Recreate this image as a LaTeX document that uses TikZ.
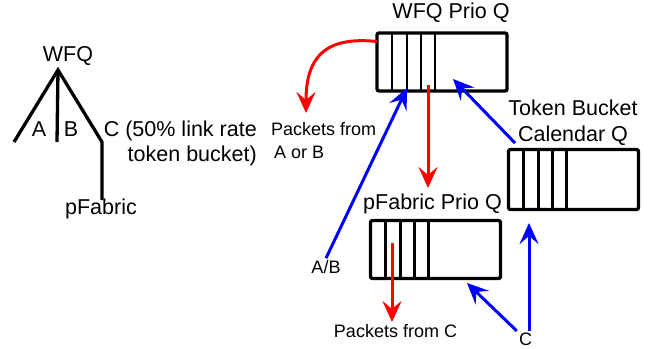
\documentclass[tikz,border=0pt]{standalone}
\usepackage{fontspec}
\setmainfont{Liberation Sans}
\usetikzlibrary{arrows.meta, positioning}
\tikzstyle{queue} = [rectangle, rounded corners=2pt, draw=black, line width=3.3pt, minimum width=130pt, minimum height=58pt, inner sep=0pt, outer sep=0pt]
\tikzstyle{slot} = [line width=2.2pt]
\tikzstyle{tree} = [line width=3.3pt]
\tikzstyle{big} = [font=\fontsize{21.5}{25}\selectfont, inner sep=0pt]
\tikzstyle{small} = [font=\fontsize{18}{23}\selectfont, inner sep=0pt]
\tikzstyle{enq} = [blue, line width=3pt, -{Stealth[length=21pt, width=19pt, inset=8pt]}]
\tikzstyle{deq} = [red, line width=3pt, -{Stealth[length=21pt, width=19pt, inset=8pt]}]

\begin{document}
\begin{tikzpicture}[x=1pt, y=-1pt]
\useasboundingbox (0,0) rectangle (650,348);

% Scheduling tree
\node (root-lbl) [big] at (68,56.5) {WFQ};
\coordinate (root) at (58,70);
\coordinate (leaf-a) at (14,142);
\coordinate (leaf-b) at (57,142);
\coordinate (leaf-c) at (102,142);
\coordinate (leaf-pf) at (102,200);
\draw [tree] (leaf-a) -- (root) -- (leaf-c) -- (leaf-pf);
\draw [tree] (root) -- (leaf-b);
\node (a-lbl) [big] at (39,129) {A};
\node (b-lbl) [big] at (71,129) {B};
\node (c-lbl) [big, align=right, anchor=east] at (257,143) {C (50\% link rate\\token bucket)};
\node (pf-lbl) [big] at (101,208.5) {pFabric};

% Queues
\node (wfq) [queue] at (442,62) {};
\node (tb) [queue, minimum height=60pt] at (573.5,179.5) {};
\node (pf) [queue] at (435.5,249.5) {};
\foreach \q in {wfq, tb, pf}
  \foreach \dx in {15,30,44,58}
    \draw [slot] ([xshift=\dx pt]\q.north west) -- ([xshift=\dx pt]\q.south west);

\node (wfq-lbl) [big] at (451,13) {WFQ Prio Q};
\node (tb-lbl) [big, align=center, font=\fontsize{21.5}{26.5}\selectfont] at (573,122.5) {Token Bucket\\Calendar Q};
\node (pf-lbl-q) [big] at (432.5,203.5) {pFabric Prio Q};

% Labels
\node (ab-out-lbl) [small, align=left, anchor=west] at (271,141) {Packets from\\\hspace{3pt}A or B};
\node (c-out-lbl) [small] at (395.5,331) {Packets from C};
\node (ab-lbl) [small, inner sep=2pt] at (326,267) {A/B};
\node (c-in-lbl) [small, inner sep=2pt] at (525.5,339.5) {C};

% Arrow ends
\coordinate (wfq-out) at (377,41.5);
\coordinate (ab-drop) at (306,113);
\coordinate (wfq-mid) at (428,85);
\coordinate (pf-drop) at (428,188);
\coordinate (pf-out) at (392,243);
\coordinate (c-drop) at (392,322);
\coordinate (wfq-in-ab) at (407,88);
\coordinate (wfq-in-tb) at (453,79);
\coordinate (tb-out) at (515,143);
\coordinate (pf-in) at (467,283);
\coordinate (tb-in) at (529,223);

% Arrows
\draw [deq] (wfq-out) .. controls (324,36) and (306,58) .. (ab-drop);
\draw [deq] (wfq-mid) -- (pf-drop);
\draw [deq] (pf-out) -- (c-drop);
\draw [enq] (ab-lbl.north) -- (wfq-in-ab);
\draw [enq] (tb-out) -- (wfq-in-tb);
\draw [enq] (c-in-lbl.north west) -- (pf-in);
\draw [enq] ([xshift=3.5pt]c-in-lbl.north) -- (tb-in);

\end{tikzpicture}
\end{document}
